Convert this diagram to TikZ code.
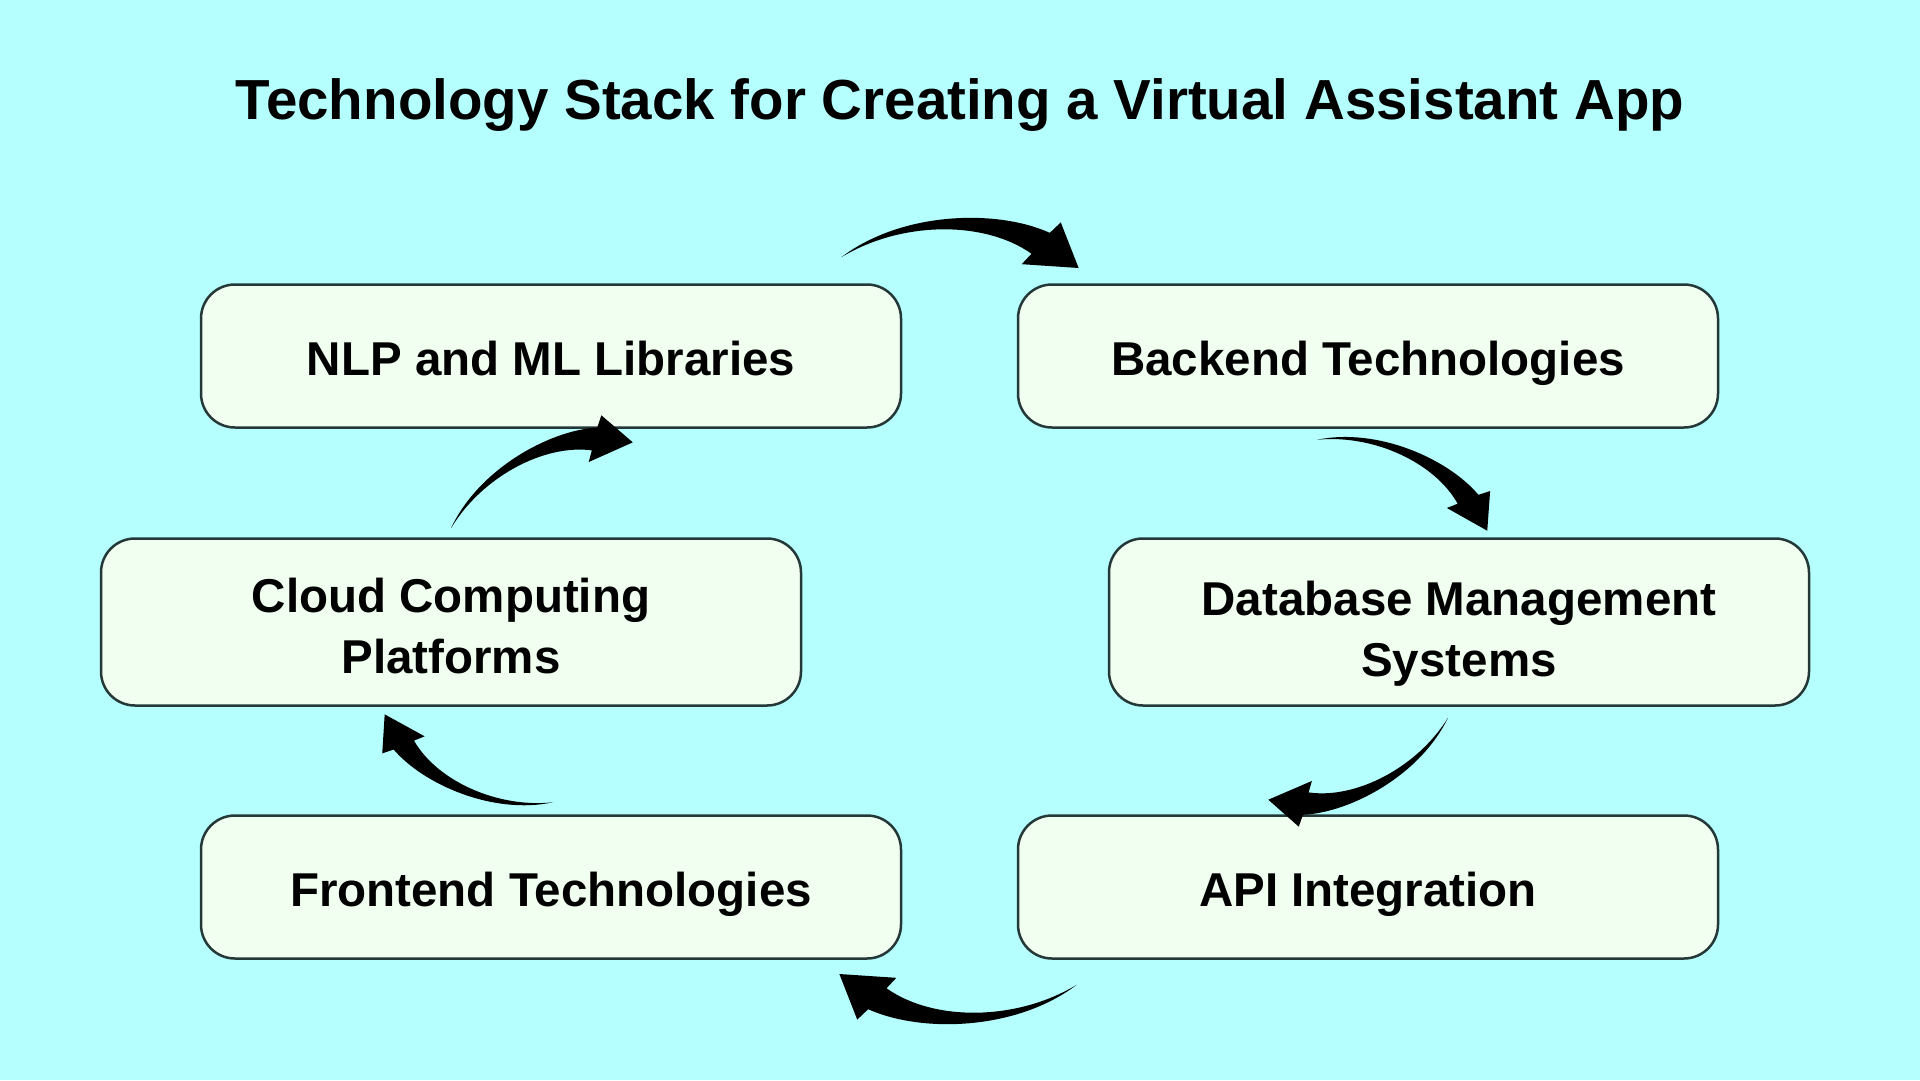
\documentclass[tikz,border=0pt]{standalone}
\usepackage{fontspec}
\setmainfont{Liberation Sans}
\usetikzlibrary{calc}
\definecolor{skybg}{HTML}{B5FFFF}
\definecolor{boxfill}{HTML}{F0FFF0}
\definecolor{boxline}{HTML}{253838}

\begin{document}
\begin{tikzpicture}[
  x=1pt, y=-1pt,
  stackbox/.style={draw=boxline, line width=2.5pt, fill=boxfill, rounded corners=34pt,
    minimum width=700pt, minimum height=143pt, align=center,
    text height=41pt, text depth=3pt,
    font=\fontsize{47.5}{61}\selectfont\bfseries},
  tallbox/.style={stackbox, minimum height=167pt, text height=103pt, text depth=0pt},
  swoosh/.style={insert path={(0,0) .. controls (0.25,0.2) and (0.65,0.22) .. (0.875,0.125)
      -- (0.92,0.17) -- (1,-0.02) -- (0.76,-0.01) -- (0.80,0.035)
      .. controls (0.6,0.17) and (0.25,0.16) .. (0,0) -- cycle}}
]
  \useasboundingbox (0,0) rectangle (1920,1080);
  \fill[skybg] (0,0) rectangle (1920,1080);

  \node[font=\fontsize{56.5}{68}\selectfont\bfseries] (title) at (960,105)
    {Technology Stack for Creating a Virtual Assistant App};

  \node[stackbox] (nlp) at (551,356) {NLP and ML Libraries};
  \node[stackbox] (backend) at (1368,356) {Backend Technologies};
  \node[tallbox] (cloud) at (451,622) {Cloud Computing\\Platforms};
  \node[tallbox, text height=108pt] (dbms) at (1459,622) {Database Management\\Systems};
  \node[stackbox] (front) at (551,887) {Frontend Technologies};
  \node[stackbox] (api) at (1368,887) {API Integration};

  % ends of the curved arrows
  \coordinate (s1) at ([shift={(-61,-26)}]nlp.north east);
  \coordinate (t1) at ([shift={(62,-20)}]backend.north west);
  \coordinate (s2) at ([shift={(-51,11)}]backend.south);
  \coordinate (t2) at ([shift={(30,-10)}]dbms.north);
  \coordinate (s3) at ([shift={(-11,11)}]dbms.south);
  \coordinate (t3) at ([shift={(-98,-11)}]api.north);
  \coordinate (s4) at ([shift={(60,25)}]api.south west);
  \coordinate (t4) at ([shift={(-63,19)}]front.south east);
  \coordinate (s5) at ([shift={(2,-12)}]front.north);
  \coordinate (t5) at ([shift={(-68,11)}]cloud.south);
  \coordinate (s6) at ([shift={(0,-9)}]cloud.north);
  \coordinate (t6) at ([shift={(80,10)}]nlp.south);

  \foreach \s/\t in {s1/t1, s2/t2, s3/t3, s4/t4, s5/t5, s6/t6}{
    \coordinate (nrm) at ($(\s)!1!90:(\t)$);
    \fill[x={($(\t)-(\s)$)}, y={($(nrm)-(\s)$)}, shift={(\s)}, swoosh];
  }
\end{tikzpicture}
\end{document}
